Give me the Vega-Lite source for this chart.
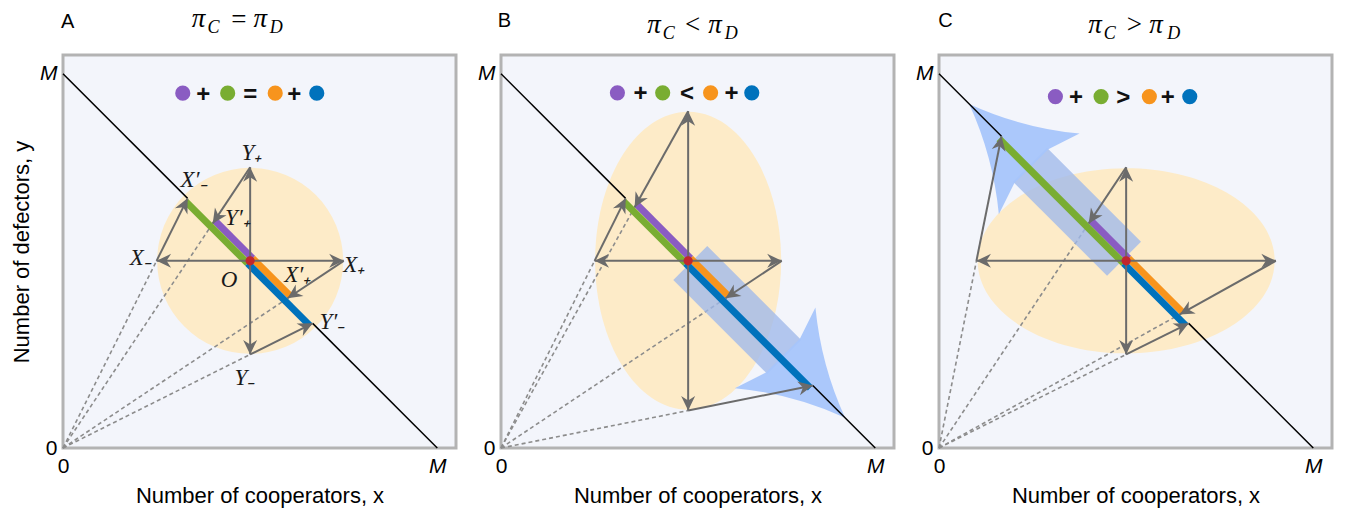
{
"$schema":"https://vega.github.io/schema/vega-lite/v6.json",
"padding":{"left":9,"top":3,"right":0,"bottom":0},
"spacing":18,
"config":{
 "view":{"stroke":"#b3b3b3","strokeWidth":3,"fill":"#f3f5fb"},
 "font":"Liberation Sans",
 "axis":{"labelFont":"Liberation Sans","labelFontSize":21,"labelColor":"#000","titleFont":"Liberation Sans","titleFontSize":22,"titleFontWeight":"normal","titleColor":"#000","ticks":false,"tickSize":0,"domain":false,"grid":false,"labelFlush":false,"labelOverlap":false}
},
"datasets":{
 "centers":[{"panel":"A","x":50,"y":50},{"panel":"B","x":50,"y":50},{"panel":"C","x":50,"y":50}],
 "bigArrows":[{"panel":"B","x":50,"y":50,"heading":135},{"panel":"C","x":50,"y":50,"heading":315}],
 "rays":[
  {"panel":"A","x":0,"y":0,"x2":25,"y2":50},{"panel":"A","x":0,"y":0,"x2":40,"y2":60},{"panel":"A","x":0,"y":0,"x2":60,"y2":40},{"panel":"A","x":0,"y":0,"x2":50,"y2":25},
  {"panel":"B","x":0,"y":0,"x2":25,"y2":50},{"panel":"B","x":0,"y":0,"x2":35.7,"y2":64.3},{"panel":"B","x":0,"y":0,"x2":60,"y2":40},{"panel":"B","x":0,"y":0,"x2":50,"y2":10},
  {"panel":"C","x":0,"y":0,"x2":10,"y2":50},{"panel":"C","x":0,"y":0,"x2":40,"y2":60},{"panel":"C","x":0,"y":0,"x2":64.3,"y2":35.7},{"panel":"C","x":0,"y":0,"x2":50,"y2":25}
 ],
 "diagonal":[
  {"panel":"A","x":0,"y":100,"x2":33.3,"y2":66.7},{"panel":"A","x":66.7,"y":33.3,"x2":100,"y2":0},
  {"panel":"B","x":0,"y":100,"x2":33.3,"y2":66.7},{"panel":"B","x":83.3,"y":16.7,"x2":100,"y2":0},
  {"panel":"C","x":0,"y":100,"x2":16.7,"y2":83.3},{"panel":"C","x":66.7,"y":33.3,"x2":100,"y2":0}
 ],
 "segments":[
  {"panel":"A","term":"k1","x":50,"y":50,"x2":40,"y2":60},{"panel":"A","term":"k2","x":50,"y":50,"x2":33.3,"y2":66.7},{"panel":"A","term":"k3","x":50,"y":50,"x2":60,"y2":40},{"panel":"A","term":"k4","x":50,"y":50,"x2":66.7,"y2":33.3},
  {"panel":"B","term":"k1","x":50,"y":50,"x2":35.7,"y2":64.3},{"panel":"B","term":"k2","x":50,"y":50,"x2":33.3,"y2":66.7},{"panel":"B","term":"k3","x":50,"y":50,"x2":60,"y2":40},{"panel":"B","term":"k4","x":50,"y":50,"x2":83.3,"y2":16.7},
  {"panel":"C","term":"k1","x":50,"y":50,"x2":40,"y2":60},{"panel":"C","term":"k2","x":50,"y":50,"x2":16.7,"y2":83.3},{"panel":"C","term":"k3","x":50,"y":50,"x2":64.3,"y2":35.7},{"panel":"C","term":"k4","x":50,"y":50,"x2":66.7,"y2":33.3}
 ],
 "arrows":[
  {"panel":"A","x":50,"y":50,"x2":50,"y2":75,"heading":0},{"panel":"A","x":50,"y":50,"x2":75,"y2":50,"heading":90},{"panel":"A","x":50,"y":50,"x2":50,"y2":25,"heading":180},{"panel":"A","x":50,"y":50,"x2":25,"y2":50,"heading":270},
  {"panel":"A","x":50,"y":75,"x2":40,"y2":60,"heading":213.7},{"panel":"A","x":75,"y":50,"x2":60,"y2":40,"heading":236.3},{"panel":"A","x":50,"y":25,"x2":66.7,"y2":33.3,"heading":63.6},{"panel":"A","x":25,"y":50,"x2":33.3,"y2":66.7,"heading":26.4},
  {"panel":"B","x":50,"y":50,"x2":50,"y2":90,"heading":0},{"panel":"B","x":50,"y":50,"x2":75,"y2":50,"heading":90},{"panel":"B","x":50,"y":50,"x2":50,"y2":10,"heading":180},{"panel":"B","x":50,"y":50,"x2":25,"y2":50,"heading":270},
  {"panel":"B","x":50,"y":90,"x2":35.7,"y2":64.3,"heading":209.1},{"panel":"B","x":75,"y":50,"x2":60,"y2":40,"heading":236.3},{"panel":"B","x":50,"y":10,"x2":83.3,"y2":16.7,"heading":78.6},{"panel":"B","x":25,"y":50,"x2":33.3,"y2":66.7,"heading":26.4},
  {"panel":"C","x":50,"y":50,"x2":50,"y2":75,"heading":0},{"panel":"C","x":50,"y":50,"x2":90,"y2":50,"heading":90},{"panel":"C","x":50,"y":50,"x2":50,"y2":25,"heading":180},{"panel":"C","x":50,"y":50,"x2":10,"y2":50,"heading":270},
  {"panel":"C","x":50,"y":75,"x2":40,"y2":60,"heading":213.7},{"panel":"C","x":90,"y":50,"x2":64.3,"y2":35.7,"heading":240.9},{"panel":"C","x":50,"y":25,"x2":66.7,"y2":33.3,"heading":63.6},{"panel":"C","x":10,"y":50,"x2":16.7,"y2":83.3,"heading":11.4}
 ],
 "eqDots":[
  {"panel":"A","term":"k1","x":32.0,"y":94.8},{"panel":"A","term":"k2","x":44.0,"y":94.8},{"panel":"A","term":"k3","x":56.7,"y":94.8},{"panel":"A","term":"k4","x":67.8,"y":94.8},
  {"panel":"B","term":"k1","x":31.1,"y":94.9},{"panel":"B","term":"k2","x":43.2,"y":94.9},{"panel":"B","term":"k3","x":56.0,"y":94.9},{"panel":"B","term":"k4","x":67.0,"y":94.9},
  {"panel":"C","term":"k1","x":31.1,"y":93.9},{"panel":"C","term":"k2","x":43.3,"y":93.9},{"panel":"C","term":"k3","x":56.2,"y":93.9},{"panel":"C","term":"k4","x":67.0,"y":93.9}
 ],
 "eqOps":[
  {"panel":"A","text":"+","x":37.5,"y":94.2},{"panel":"A","text":"=","x":50.0,"y":94.2},{"panel":"A","text":"+","x":61.8,"y":94.2},
  {"panel":"B","text":"+","x":37.3,"y":94.6},{"panel":"B","text":"<","x":49.7,"y":94.6},{"panel":"B","text":"+","x":61.6,"y":94.6},
  {"panel":"C","text":"+","x":36.6,"y":93.6},{"panel":"C","text":">","x":49.2,"y":93.6},{"panel":"C","text":"+","x":61.1,"y":93.6}
 ],
 "headers":[
  {"panel":"A","role":"letter","text":"A","x":1.25,"y":113.9},{"panel":"A","role":"main","text":"π","x":36.2,"y":114.6},{"panel":"A","role":"sub","text":"C","x":40.2,"y":112.1},{"panel":"A","role":"rel","text":"=","x":47.0,"y":114.4},{"panel":"A","role":"main","text":"π","x":52.7,"y":114.6},{"panel":"A","role":"sub","text":"D","x":57.0,"y":112.1},
  {"panel":"B","role":"letter","text":"B","x":0.9,"y":114.2},{"panel":"B","role":"main","text":"π","x":40.9,"y":113.1},{"panel":"B","role":"sub","text":"C","x":44.8,"y":110.7},{"panel":"B","role":"rel","text":"<","x":51.2,"y":112.9},{"panel":"B","role":"main","text":"π","x":57.2,"y":113.1},{"panel":"B","role":"sub","text":"D","x":61.5,"y":110.7},
  {"panel":"C","role":"letter","text":"C","x":1.7,"y":114.2},{"panel":"C","role":"main","text":"π","x":41.7,"y":113.1},{"panel":"C","role":"sub","text":"C","x":45.6,"y":110.7},{"panel":"C","role":"rel","text":">","x":52.2,"y":112.9},{"panel":"C","role":"main","text":"π","x":58.0,"y":113.1},{"panel":"C","role":"sub","text":"D","x":62.7,"y":110.7}
 ],
 "labels":[
  {"panel":"A","text":"X′₋","x":35.0,"y":71.6},{"panel":"A","text":"Y₊","x":50.5,"y":78.8},{"panel":"A","text":"Y′₊","x":46.7,"y":61.4},{"panel":"A","text":"X₋","x":20.8,"y":50.8},{"panel":"A","text":"X₊","x":77.8,"y":48.9},{"panel":"A","text":"O","x":44.4,"y":44.9},{"panel":"A","text":"X′₊","x":62.7,"y":46.2},{"panel":"A","text":"Y′₋","x":72.0,"y":33.7},{"panel":"A","text":"Y₋","x":48.6,"y":18.6}
 ]
},
"hconcat":[
{
 "width":393,"height":393,
 "encoding":{
  "x":{"field":"x","type":"quantitative","scale":{"domain":[0,105],"nice":false,"zero":false},"axis":{"values":[0,100],"labelExpr":"datum.value == 0 ? '0' : 'M'","labelFontSize":21,"labelPadding":7,"labelFontStyle":{"condition":{"test":"datum.value == 100","value":"italic"},"value":"normal"},"title":"Number of cooperators, x","titlePadding":9}},
  "y":{"field":"y","type":"quantitative","scale":{"domain":[0,105],"nice":false,"zero":false},"axis":{"values":[0,100],"labelExpr":"datum.value == 0 ? '0' : 'M'","labelFontSize":21,"labelPadding":6,"labelFontStyle":{"condition":{"test":"datum.value == 100","value":"italic"},"value":"normal"},"title":"Number of defectors, y","titlePadding":6}}
 },
 "layer":[
  {"data":{"name":"centers"},"transform":[{"filter":"datum.panel == 'A'"}],"mark":{"type":"point","shape":"circle","size":34596,"filled":true,"color":"#fdebc8","opacity":1,"strokeWidth":0}},
  {"data":{"name":"rays"},"transform":[{"filter":"datum.panel == 'A'"}],"mark":{"type":"rule","color":"#8c8c8c","strokeWidth":1.6,"strokeDash":[4,3]},"encoding":{"x2":{"field":"x2"},"y2":{"field":"y2"}}},
  {"data":{"name":"diagonal"},"transform":[{"filter":"datum.panel == 'A'"}],"mark":{"type":"rule","color":"#000000","strokeWidth":1.5},"encoding":{"x2":{"field":"x2"},"y2":{"field":"y2"}}},
  {"data":{"name":"segments"},"transform":[{"filter":"datum.panel == 'A' && (datum.term == 'k1' || datum.term == 'k3')"}],"mark":{"type":"rule","strokeWidth":7,"strokeCap":"butt","xOffset":2.5,"yOffset":-2.5,"x2Offset":2.5,"y2Offset":-2.5},"encoding":{"x2":{"field":"x2"},"y2":{"field":"y2"},"color":{"field":"term","type":"nominal","scale":{"domain":["k1","k2","k3","k4"],"range":["#8a5cc2","#79ad32","#f7941d","#0072bc"]},"legend":null}}},
  {"data":{"name":"segments"},"transform":[{"filter":"datum.panel == 'A' && (datum.term == 'k2' || datum.term == 'k4')"}],"mark":{"type":"rule","strokeWidth":7,"strokeCap":"butt","xOffset":-2.5,"yOffset":2.5,"x2Offset":-2.5,"y2Offset":2.5},"encoding":{"x2":{"field":"x2"},"y2":{"field":"y2"},"color":{"field":"term","type":"nominal","scale":{"domain":["k1","k2","k3","k4"],"range":["#8a5cc2","#79ad32","#f7941d","#0072bc"]},"legend":null}}},
  {"data":{"name":"arrows"},"transform":[{"filter":"datum.panel == 'A'"}],"mark":{"type":"rule","color":"#6b6b6b","strokeWidth":2},"encoding":{"x2":{"field":"x2"},"y2":{"field":"y2"}}},
  {"data":{"name":"arrows"},"transform":[{"filter":"datum.panel == 'A'"}],"mark":{"type":"point","shape":"M0,0 L0.7,1.45 L0,1 L-0.7,1.45 Z","size":400,"filled":true,"color":"#6b6b6b","opacity":1,"strokeWidth":0},"encoding":{"x":{"field":"x2","type":"quantitative","scale":{"domain":[0,105],"nice":false,"zero":false},"axis":{"values":[0,100],"labelExpr":"datum.value == 0 ? '0' : 'M'","labelFontSize":21,"labelPadding":7,"labelFontStyle":{"condition":{"test":"datum.value == 100","value":"italic"},"value":"normal"},"title":"Number of cooperators, x","titlePadding":9}},"y":{"field":"y2","type":"quantitative","scale":{"domain":[0,105],"nice":false,"zero":false},"axis":{"values":[0,100],"labelExpr":"datum.value == 0 ? '0' : 'M'","labelFontSize":21,"labelPadding":6,"labelFontStyle":{"condition":{"test":"datum.value == 100","value":"italic"},"value":"normal"},"title":"Number of defectors, y","titlePadding":6}},"angle":{"field":"heading","type":"quantitative","scale":null}}},
  {"data":{"name":"centers"},"transform":[{"filter":"datum.panel == 'A'"}],"mark":{"type":"point","shape":"circle","size":85,"filled":true,"color":"#c1272d","opacity":1,"strokeWidth":0}},
  {"data":{"name":"eqDots"},"transform":[{"filter":"datum.panel == 'A'"}],"mark":{"type":"point","shape":"circle","size":230,"filled":true,"opacity":1,"strokeWidth":0},"encoding":{"color":{"field":"term","type":"nominal","scale":{"domain":["k1","k2","k3","k4"],"range":["#8a5cc2","#79ad32","#f7941d","#0072bc"]},"legend":null}}},
  {"data":{"name":"eqOps"},"transform":[{"filter":"datum.panel == 'A'"}],"mark":{"type":"text","fontSize":24,"fontWeight":"bold","color":"#111111"},"encoding":{"text":{"field":"text"}}},
  {"data":{"name":"headers"},"transform":[{"filter":"datum.panel == 'A' && datum.role == 'letter'"}],"mark":{"type":"text","fontSize":20,"color":"#000000"},"encoding":{"text":{"field":"text"}}},
  {"data":{"name":"headers"},"transform":[{"filter":"datum.panel == 'A' && datum.role == 'main'"}],"mark":{"type":"text","font":"Liberation Serif","fontStyle":"italic","fontSize":27,"color":"#000000"},"encoding":{"text":{"field":"text"}}},
  {"data":{"name":"headers"},"transform":[{"filter":"datum.panel == 'A' && datum.role == 'rel'"}],"mark":{"type":"text","font":"Liberation Serif","fontSize":27,"color":"#000000"},"encoding":{"text":{"field":"text"}}},
  {"data":{"name":"headers"},"transform":[{"filter":"datum.panel == 'A' && datum.role == 'sub'"}],"mark":{"type":"text","font":"Liberation Serif","fontStyle":"italic","fontSize":18,"color":"#000000"},"encoding":{"text":{"field":"text"}}},
  {"data":{"name":"labels"},"transform":[{"filter":"datum.panel == 'A'"}],"mark":{"type":"text","font":"Liberation Serif","fontStyle":"italic","fontSize":23,"color":"#1a1a1a"},"encoding":{"text":{"field":"text"}}}
 ]
},
{
 "width":393,"height":393,
 "encoding":{
  "x":{"field":"x","type":"quantitative","scale":{"domain":[0,105],"nice":false,"zero":false},"axis":{"values":[0,100],"labelExpr":"datum.value == 0 ? '0' : 'M'","labelFontSize":21,"labelPadding":7,"labelFontStyle":{"condition":{"test":"datum.value == 100","value":"italic"},"value":"normal"},"title":"Number of cooperators, x","titlePadding":9}},
  "y":{"field":"y","type":"quantitative","scale":{"domain":[0,105],"nice":false,"zero":false},"axis":{"values":[0,100],"labelExpr":"datum.value == 0 ? '0' : 'M'","labelFontSize":21,"labelPadding":6,"labelFontStyle":{"condition":{"test":"datum.value == 100","value":"italic"},"value":"normal"},"title":null}}
 },
 "layer":[
  {"data":{"name":"centers"},"transform":[{"filter":"datum.panel == 'B'"}],"mark":{"type":"point","shape":"M9.3,0 C9.3,8.229 5.136,14.9 0,14.9 C-5.136,14.9 -9.3,8.229 -9.3,0 C-9.3,-8.229 -5.136,-14.9 0,-14.9 C5.136,-14.9 9.3,-8.229 9.3,0 Z","size":400,"filled":true,"color":"#fdebc8","opacity":1,"strokeWidth":0}},
  {"data":{"name":"rays"},"transform":[{"filter":"datum.panel == 'B'"}],"mark":{"type":"rule","color":"#8c8c8c","strokeWidth":1.6,"strokeDash":[4,3]},"encoding":{"x2":{"field":"x2"},"y2":{"field":"y2"}}},
  {"data":{"name":"bigArrows"},"transform":[{"filter":"datum.panel == 'B'"}],"mark":{"type":"point","shape":"M-2.4,-0.3 L2.4,-0.3 L2.4,-13.6 L-2.4,-13.6 Z","size":400,"filled":true,"color":"#9fb8ea","opacity":0.78,"strokeWidth":0},"encoding":{"angle":{"field":"heading","type":"quantitative","scale":null}}},
  {"data":{"name":"bigArrows"},"transform":[{"filter":"datum.panel == 'B'"}],"mark":{"type":"point","shape":"M-2.4,-13.4 L-5.7,-12.3 Q-2,-16.8 0,-22.2 Q2,-16.8 5.7,-12.3 L2.4,-13.4 Z","size":400,"filled":true,"color":"#a6c5fb","opacity":0.95,"strokeWidth":0},"encoding":{"angle":{"field":"heading","type":"quantitative","scale":null}}},
  {"data":{"name":"diagonal"},"transform":[{"filter":"datum.panel == 'B'"}],"mark":{"type":"rule","color":"#000000","strokeWidth":1.5},"encoding":{"x2":{"field":"x2"},"y2":{"field":"y2"}}},
  {"data":{"name":"segments"},"transform":[{"filter":"datum.panel == 'B' && (datum.term == 'k1' || datum.term == 'k3')"}],"mark":{"type":"rule","strokeWidth":7,"strokeCap":"butt","xOffset":2.5,"yOffset":-2.5,"x2Offset":2.5,"y2Offset":-2.5},"encoding":{"x2":{"field":"x2"},"y2":{"field":"y2"},"color":{"field":"term","type":"nominal","scale":{"domain":["k1","k2","k3","k4"],"range":["#8a5cc2","#79ad32","#f7941d","#0072bc"]},"legend":null}}},
  {"data":{"name":"segments"},"transform":[{"filter":"datum.panel == 'B' && (datum.term == 'k2' || datum.term == 'k4')"}],"mark":{"type":"rule","strokeWidth":7,"strokeCap":"butt","xOffset":-2.5,"yOffset":2.5,"x2Offset":-2.5,"y2Offset":2.5},"encoding":{"x2":{"field":"x2"},"y2":{"field":"y2"},"color":{"field":"term","type":"nominal","scale":{"domain":["k1","k2","k3","k4"],"range":["#8a5cc2","#79ad32","#f7941d","#0072bc"]},"legend":null}}},
  {"data":{"name":"arrows"},"transform":[{"filter":"datum.panel == 'B'"}],"mark":{"type":"rule","color":"#6b6b6b","strokeWidth":2},"encoding":{"x2":{"field":"x2"},"y2":{"field":"y2"}}},
  {"data":{"name":"arrows"},"transform":[{"filter":"datum.panel == 'B'"}],"mark":{"type":"point","shape":"M0,0 L0.7,1.45 L0,1 L-0.7,1.45 Z","size":400,"filled":true,"color":"#6b6b6b","opacity":1,"strokeWidth":0},"encoding":{"x":{"field":"x2","type":"quantitative","scale":{"domain":[0,105],"nice":false,"zero":false},"axis":{"values":[0,100],"labelExpr":"datum.value == 0 ? '0' : 'M'","labelFontSize":21,"labelPadding":7,"labelFontStyle":{"condition":{"test":"datum.value == 100","value":"italic"},"value":"normal"},"title":"Number of cooperators, x","titlePadding":9}},"y":{"field":"y2","type":"quantitative","scale":{"domain":[0,105],"nice":false,"zero":false},"axis":{"values":[0,100],"labelExpr":"datum.value == 0 ? '0' : 'M'","labelFontSize":21,"labelPadding":6,"labelFontStyle":{"condition":{"test":"datum.value == 100","value":"italic"},"value":"normal"},"title":null}},"angle":{"field":"heading","type":"quantitative","scale":null}}},
  {"data":{"name":"centers"},"transform":[{"filter":"datum.panel == 'B'"}],"mark":{"type":"point","shape":"circle","size":85,"filled":true,"color":"#c1272d","opacity":1,"strokeWidth":0}},
  {"data":{"name":"eqDots"},"transform":[{"filter":"datum.panel == 'B'"}],"mark":{"type":"point","shape":"circle","size":230,"filled":true,"opacity":1,"strokeWidth":0},"encoding":{"color":{"field":"term","type":"nominal","scale":{"domain":["k1","k2","k3","k4"],"range":["#8a5cc2","#79ad32","#f7941d","#0072bc"]},"legend":null}}},
  {"data":{"name":"eqOps"},"transform":[{"filter":"datum.panel == 'B'"}],"mark":{"type":"text","fontSize":24,"fontWeight":"bold","color":"#111111"},"encoding":{"text":{"field":"text"}}},
  {"data":{"name":"headers"},"transform":[{"filter":"datum.panel == 'B' && datum.role == 'letter'"}],"mark":{"type":"text","fontSize":20,"color":"#000000"},"encoding":{"text":{"field":"text"}}},
  {"data":{"name":"headers"},"transform":[{"filter":"datum.panel == 'B' && datum.role == 'main'"}],"mark":{"type":"text","font":"Liberation Serif","fontStyle":"italic","fontSize":27,"color":"#000000"},"encoding":{"text":{"field":"text"}}},
  {"data":{"name":"headers"},"transform":[{"filter":"datum.panel == 'B' && datum.role == 'rel'"}],"mark":{"type":"text","font":"Liberation Serif","fontSize":27,"color":"#000000"},"encoding":{"text":{"field":"text"}}},
  {"data":{"name":"headers"},"transform":[{"filter":"datum.panel == 'B' && datum.role == 'sub'"}],"mark":{"type":"text","font":"Liberation Serif","fontStyle":"italic","fontSize":18,"color":"#000000"},"encoding":{"text":{"field":"text"}}}
 ]
},
{
 "width":393,"height":393,
 "encoding":{
  "x":{"field":"x","type":"quantitative","scale":{"domain":[0,105],"nice":false,"zero":false},"axis":{"values":[0,100],"labelExpr":"datum.value == 0 ? '0' : 'M'","labelFontSize":21,"labelPadding":7,"labelFontStyle":{"condition":{"test":"datum.value == 100","value":"italic"},"value":"normal"},"title":"Number of cooperators, x","titlePadding":9}},
  "y":{"field":"y","type":"quantitative","scale":{"domain":[0,105],"nice":false,"zero":false},"axis":{"values":[0,100],"labelExpr":"datum.value == 0 ? '0' : 'M'","labelFontSize":21,"labelPadding":6,"labelFontStyle":{"condition":{"test":"datum.value == 100","value":"italic"},"value":"normal"},"title":null}}
 },
 "layer":[
  {"data":{"name":"centers"},"transform":[{"filter":"datum.panel == 'C'"}],"mark":{"type":"point","shape":"M14.85,0 C14.85,5.11 8.2,9.25 0,9.25 C-8.2,9.25 -14.85,5.11 -14.85,0 C-14.85,-5.11 -8.2,-9.25 0,-9.25 C8.2,-9.25 14.85,-5.11 14.85,0 Z","size":400,"filled":true,"color":"#fdebc8","opacity":1,"strokeWidth":0}},
  {"data":{"name":"rays"},"transform":[{"filter":"datum.panel == 'C'"}],"mark":{"type":"rule","color":"#8c8c8c","strokeWidth":1.6,"strokeDash":[4,3]},"encoding":{"x2":{"field":"x2"},"y2":{"field":"y2"}}},
  {"data":{"name":"bigArrows"},"transform":[{"filter":"datum.panel == 'C'"}],"mark":{"type":"point","shape":"M-2.4,-0.3 L2.4,-0.3 L2.4,-13.6 L-2.4,-13.6 Z","size":400,"filled":true,"color":"#9fb8ea","opacity":0.78,"strokeWidth":0},"encoding":{"angle":{"field":"heading","type":"quantitative","scale":null}}},
  {"data":{"name":"bigArrows"},"transform":[{"filter":"datum.panel == 'C'"}],"mark":{"type":"point","shape":"M-2.4,-13.4 L-5.7,-12.3 Q-2,-16.8 0,-22.2 Q2,-16.8 5.7,-12.3 L2.4,-13.4 Z","size":400,"filled":true,"color":"#a6c5fb","opacity":0.95,"strokeWidth":0},"encoding":{"angle":{"field":"heading","type":"quantitative","scale":null}}},
  {"data":{"name":"diagonal"},"transform":[{"filter":"datum.panel == 'C'"}],"mark":{"type":"rule","color":"#000000","strokeWidth":1.5},"encoding":{"x2":{"field":"x2"},"y2":{"field":"y2"}}},
  {"data":{"name":"segments"},"transform":[{"filter":"datum.panel == 'C' && (datum.term == 'k1' || datum.term == 'k3')"}],"mark":{"type":"rule","strokeWidth":7,"strokeCap":"butt","xOffset":2.5,"yOffset":-2.5,"x2Offset":2.5,"y2Offset":-2.5},"encoding":{"x2":{"field":"x2"},"y2":{"field":"y2"},"color":{"field":"term","type":"nominal","scale":{"domain":["k1","k2","k3","k4"],"range":["#8a5cc2","#79ad32","#f7941d","#0072bc"]},"legend":null}}},
  {"data":{"name":"segments"},"transform":[{"filter":"datum.panel == 'C' && (datum.term == 'k2' || datum.term == 'k4')"}],"mark":{"type":"rule","strokeWidth":7,"strokeCap":"butt","xOffset":-2.5,"yOffset":2.5,"x2Offset":-2.5,"y2Offset":2.5},"encoding":{"x2":{"field":"x2"},"y2":{"field":"y2"},"color":{"field":"term","type":"nominal","scale":{"domain":["k1","k2","k3","k4"],"range":["#8a5cc2","#79ad32","#f7941d","#0072bc"]},"legend":null}}},
  {"data":{"name":"arrows"},"transform":[{"filter":"datum.panel == 'C'"}],"mark":{"type":"rule","color":"#6b6b6b","strokeWidth":2},"encoding":{"x2":{"field":"x2"},"y2":{"field":"y2"}}},
  {"data":{"name":"arrows"},"transform":[{"filter":"datum.panel == 'C'"}],"mark":{"type":"point","shape":"M0,0 L0.7,1.45 L0,1 L-0.7,1.45 Z","size":400,"filled":true,"color":"#6b6b6b","opacity":1,"strokeWidth":0},"encoding":{"x":{"field":"x2","type":"quantitative","scale":{"domain":[0,105],"nice":false,"zero":false},"axis":{"values":[0,100],"labelExpr":"datum.value == 0 ? '0' : 'M'","labelFontSize":21,"labelPadding":7,"labelFontStyle":{"condition":{"test":"datum.value == 100","value":"italic"},"value":"normal"},"title":"Number of cooperators, x","titlePadding":9}},"y":{"field":"y2","type":"quantitative","scale":{"domain":[0,105],"nice":false,"zero":false},"axis":{"values":[0,100],"labelExpr":"datum.value == 0 ? '0' : 'M'","labelFontSize":21,"labelPadding":6,"labelFontStyle":{"condition":{"test":"datum.value == 100","value":"italic"},"value":"normal"},"title":null}},"angle":{"field":"heading","type":"quantitative","scale":null}}},
  {"data":{"name":"centers"},"transform":[{"filter":"datum.panel == 'C'"}],"mark":{"type":"point","shape":"circle","size":85,"filled":true,"color":"#c1272d","opacity":1,"strokeWidth":0}},
  {"data":{"name":"eqDots"},"transform":[{"filter":"datum.panel == 'C'"}],"mark":{"type":"point","shape":"circle","size":230,"filled":true,"opacity":1,"strokeWidth":0},"encoding":{"color":{"field":"term","type":"nominal","scale":{"domain":["k1","k2","k3","k4"],"range":["#8a5cc2","#79ad32","#f7941d","#0072bc"]},"legend":null}}},
  {"data":{"name":"eqOps"},"transform":[{"filter":"datum.panel == 'C'"}],"mark":{"type":"text","fontSize":24,"fontWeight":"bold","color":"#111111"},"encoding":{"text":{"field":"text"}}},
  {"data":{"name":"headers"},"transform":[{"filter":"datum.panel == 'C' && datum.role == 'letter'"}],"mark":{"type":"text","fontSize":20,"color":"#000000"},"encoding":{"text":{"field":"text"}}},
  {"data":{"name":"headers"},"transform":[{"filter":"datum.panel == 'C' && datum.role == 'main'"}],"mark":{"type":"text","font":"Liberation Serif","fontStyle":"italic","fontSize":27,"color":"#000000"},"encoding":{"text":{"field":"text"}}},
  {"data":{"name":"headers"},"transform":[{"filter":"datum.panel == 'C' && datum.role == 'rel'"}],"mark":{"type":"text","font":"Liberation Serif","fontSize":27,"color":"#000000"},"encoding":{"text":{"field":"text"}}},
  {"data":{"name":"headers"},"transform":[{"filter":"datum.panel == 'C' && datum.role == 'sub'"}],"mark":{"type":"text","font":"Liberation Serif","fontStyle":"italic","fontSize":18,"color":"#000000"},"encoding":{"text":{"field":"text"}}}
 ]
}
]
}
